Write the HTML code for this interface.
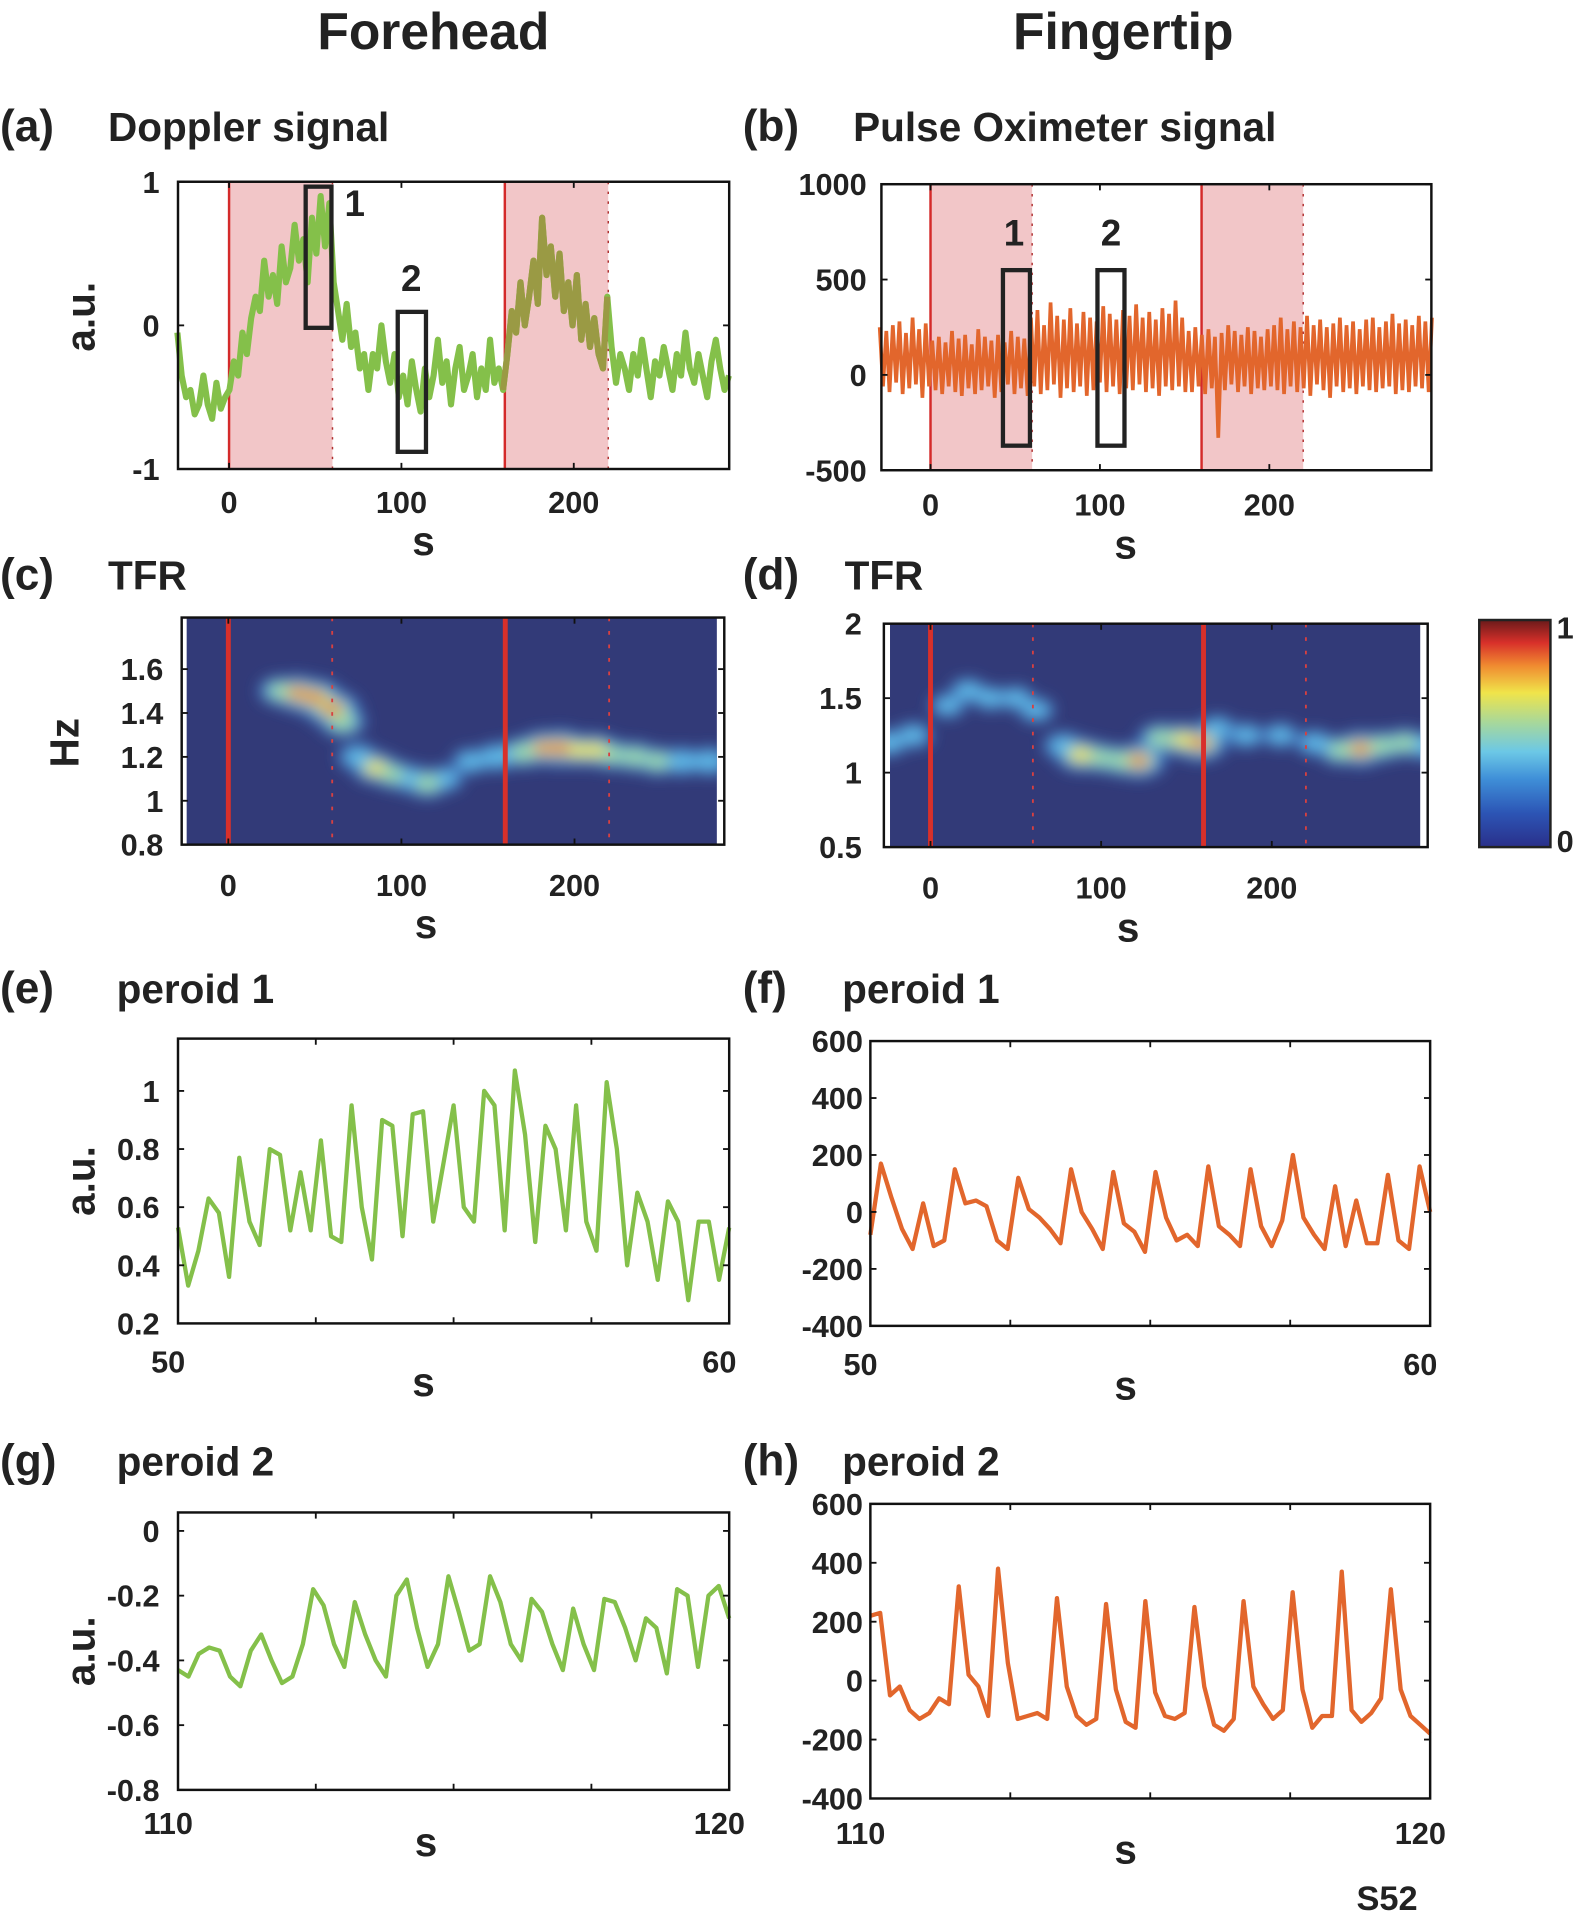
<!DOCTYPE html>
<html><head><meta charset="utf-8"><style>
html,body{margin:0;padding:0;background:#fff;}
svg{display:block;font-family:"Liberation Sans",Arial,sans-serif;font-weight:bold;}
</style></head><body>
<svg id="fig" width="1575" height="1925" viewBox="0 0 1283 1568" xmlns="http://www.w3.org/2000/svg">
<defs>
<filter id="blur" x="-50%" y="-50%" width="200%" height="200%"><feGaussianBlur stdDeviation="6"/></filter>
<linearGradient id="jet" x1="0" y1="1" x2="0" y2="0">
<stop offset="0" stop-color="#2a2f8a"/><stop offset="0.15" stop-color="#2c55b5"/><stop offset="0.3" stop-color="#3f8fd8"/>
<stop offset="0.42" stop-color="#6cc8e6"/><stop offset="0.55" stop-color="#a8d89a"/><stop offset="0.68" stop-color="#f0e44a"/>
<stop offset="0.8" stop-color="#f08a30"/><stop offset="0.9" stop-color="#d8302a"/><stop offset="1" stop-color="#6a1a1a"/>
</linearGradient>
<clipPath id="clipC"><rect x="152" y="503" width="432" height="185"/></clipPath>
<clipPath id="clipD"><rect x="725" y="508" width="432" height="182"/></clipPath>
</defs>
<g id="root"></g>
</svg>
<script>
// ---------- data ----------
const aTime0 = -30, aEnd = 290;
const aValues = [-0.05,-0.35,-0.5,-0.45,-0.62,-0.55,-0.35,-0.55,-0.65,-0.4,-0.58,-0.5,
-0.45,-0.25,-0.35,-0.05,-0.2,0.05,0.2,0.1,0.45,0.2,0.35,0.15,0.55,0.3,0.4,0.7,0.45,0.6,0.3,0.75,0.5,0.9,0.55,0.85,
0.3,0.1,-0.1,0.15,-0.15,-0.05,-0.3,-0.2,-0.45,-0.2,-0.3,0.0,-0.25,-0.4,-0.2,-0.5,
-0.35,-0.55,-0.25,-0.45,-0.6,-0.3,-0.5,-0.35,-0.1,-0.4,-0.25,-0.55,-0.3,-0.15,-0.45,-0.35,-0.2,-0.5,-0.3,-0.45,-0.1,-0.4,-0.3,-0.45,
-0.2,0.1,-0.05,0.3,0.0,0.2,0.45,0.15,0.75,0.35,0.55,0.2,0.5,0.1,0.3,0.0,0.35,-0.1,0.15,-0.15,0.05,-0.2,-0.3,0.2,
-0.15,-0.4,-0.2,-0.3,-0.45,-0.2,-0.35,-0.1,-0.3,-0.5,-0.25,-0.35,-0.15,-0.3,-0.45,-0.2,-0.35,-0.05,-0.3,-0.4,-0.2,-0.35,-0.5,-0.25,-0.1,-0.3,-0.45,-0.35];
const bTime0 = -30, bEnd = 296;
const bValues = [250,-60,230,-90,260,-40,280,-100,220,-70,300,-50,240,-120,270,-60,
180,-80,200,-100,170,-60,230,-90,190,-110,210,-70,160,-100,240,-80,200,-60,180,-120,210,-90,170,-50,230,-100,200,-70,190,-110,
300,-60,340,-100,260,-80,380,-50,310,-120,290,-70,350,-90,270,-60,330,-110,300,-80,280,-40,360,-90,320,-60,290,-100,340,-70,310,-80,
370,-50,300,-90,330,-70,290,-110,350,-60,320,-80,390,-60,300,-90,
230,-90,250,-60,210,-100,240,-70,200,-330,220,-80,260,-50,230,-90,210,-60,250,-100,230,-70,200,-80,240,-60,
260,-80,300,-100,240,-60,280,-90,250,-70,310,-110,260,-50,290,-80,250,-120,270,-60,300,-90,260,-70,280,-100,240,-60,290,-80,300,-90,250,-70,280,-60,320,-100,270,-80,290,-90,260,-60,310,-70,280,-90,300];
const cBlobs = [[30,1.5,0.5],[40,1.49,0.9],[50,1.47,1],[60,1.42,0.95],[66,1.36,0.6],[75,1.2,0.4],[85,1.15,0.65],[95,1.12,0.5],[105,1.1,0.45],[115,1.08,0.55],[125,1.1,0.3],[140,1.18,0.3],[155,1.2,0.45],[170,1.22,0.6],[182,1.24,0.85],[192,1.24,1],[202,1.23,0.7],[212,1.23,0.75],[222,1.21,0.55],[235,1.2,0.55],[248,1.18,0.5],[262,1.18,0.45],[278,1.18,0.45]];
const dBlobs = [[-25,1.2,0.35],[-10,1.25,0.3],[10,1.45,0.22],[22,1.55,0.25],[35,1.5,0.22],[50,1.5,0.22],[62,1.42,0.25],[78,1.18,0.4],[88,1.12,0.8],[100,1.1,0.55],[112,1.08,0.6],[122,1.08,0.9],[135,1.23,0.6],[148,1.22,0.75],[158,1.2,0.95],[168,1.3,0.25],[185,1.25,0.25],[205,1.25,0.25],[225,1.2,0.3],[240,1.15,0.55],[252,1.16,0.9],[265,1.18,0.55],[278,1.2,0.5],[290,1.18,0.4]];
const eValues = [0.53,0.33,0.45,0.63,0.58,0.36,0.77,0.55,0.47,0.80,0.78,0.52,0.72,0.52,0.83,0.50,0.48,0.95,0.60,0.42,0.90,0.88,0.50,0.92,0.93,0.55,0.75,0.95,0.60,0.55,1.00,0.95,0.52,1.07,0.85,0.48,0.88,0.80,0.52,0.95,0.55,0.45,1.03,0.80,0.40,0.65,0.55,0.35,0.62,0.55,0.28,0.55,0.55,0.35,0.53];
const fValues = [-80,170,50,-60,-130,30,-120,-100,150,30,40,20,-100,-130,120,10,-20,-60,-110,150,0,-60,-130,140,-40,-70,-140,140,-20,-100,-80,-120,160,-50,-80,-120,150,-50,-120,-30,200,-20,-80,-130,90,-120,40,-110,-110,130,-100,-130,160,0];
const gValues = [-0.43,-0.45,-0.38,-0.36,-0.37,-0.45,-0.48,-0.37,-0.32,-0.40,-0.47,-0.45,-0.35,-0.18,-0.23,-0.35,-0.42,-0.22,-0.32,-0.40,-0.45,-0.20,-0.15,-0.30,-0.42,-0.35,-0.14,-0.25,-0.37,-0.35,-0.14,-0.22,-0.35,-0.40,-0.21,-0.25,-0.35,-0.43,-0.24,-0.35,-0.43,-0.21,-0.22,-0.30,-0.40,-0.27,-0.30,-0.44,-0.18,-0.20,-0.42,-0.20,-0.17,-0.27];
const hValues = [220,230,-50,-20,-100,-130,-110,-60,-80,320,20,-20,-120,380,60,-130,-120,-110,-130,280,-20,-120,-150,-130,260,-30,-140,-160,270,-40,-120,-130,-110,250,-20,-150,-170,-130,270,-20,-80,-130,-100,300,-30,-160,-120,-120,370,-100,-140,-110,-60,310,-30,-120,-150,-180];
const abTicks = [0,100,200];

// ---------- helpers ----------
const NS = "http://www.w3.org/2000/svg";
const root = document.getElementById('root');
function el(tag, attrs, parent) {
  const e = document.createElementNS(NS, tag);
  for (const k in attrs) e.setAttribute(k, attrs[k]);
  (parent || root).appendChild(e);
  return e;
}
function txt(s, x, y, size, anchor, parent) {
  const t = el('text', {x:x, y:y, 'font-size':size, 'text-anchor':anchor||'middle', fill:'#222'}, parent);
  t.textContent = s;
  return t;
}
function scale(d0, d1, r0, r1) { return v => r0 + (v - d0) * (r1 - r0) / (d1 - d0); }
function axes(name) {
  const g = el('g', {});
  
  
  return g;
}
function frame(g, L, R, T, B) {
  el('rect', {x:L, y:T, width:R-L, height:B-T, fill:'none', stroke:'#111', 'stroke-width':2}, g);
}
function linePath(vals, sx, sy, t0, step) {
  return vals.map((v,i) => (i? 'L':'M') + sx(t0 + i*step).toFixed(1) + ',' + sy(v).toFixed(1)).join('');
}
function xticks(g, ticks, sx, B, T, ly) {
  ticks.forEach(t => {
    el('line', {x1:sx(t), x2:sx(t), y1:B, y2:B-5, stroke:'#111', 'stroke-width':1.5}, g);
    el('line', {x1:sx(t), x2:sx(t), y1:T, y2:T+5, stroke:'#111', 'stroke-width':1.5}, g);
    txt(String(t), sx(t), ly, 25, 'middle', g);
  });
}
function yticks(g, ticks, sy, L, R, lx, labels) {
  ticks.forEach((t,i) => {
    el('line', {x1:L, x2:L+5, y1:sy(t), y2:sy(t), stroke:'#111', 'stroke-width':1.5}, g);
    el('line', {x1:R, x2:R-5, y1:sy(t), y2:sy(t), stroke:'#111', 'stroke-width':1.5}, g);
    txt(labels ? labels[i] : String(t), lx, sy(t)+9, 25, 'end', g);
  });
}

// ---------- headings ----------
let t;
t = txt('Forehead', 353, 40, 42);  
t = txt('Fingertip', 915, 40, 42);  
function panelTitle(label, title, x, tx, y, name) {
  const a = txt(label, x, y, 36, 'start');
   
  const b = txt(title, tx, y, 33, 'start');
   
}
panelTitle('(a)', 'Doppler signal', 0, 88, 115, 'panel-a');
panelTitle('(b)', 'Pulse Oximeter signal', 605, 695, 115, 'panel-b');
panelTitle('(c)', 'TFR', 0, 88, 480, 'panel-c');
panelTitle('(d)', 'TFR', 605, 688, 480, 'panel-d');
panelTitle('(e)', 'peroid 1', 0, 95, 817, 'panel-e');
panelTitle('(f)', 'peroid 1', 605, 686, 817, 'panel-f');
panelTitle('(g)', 'peroid 2', 0, 95, 1202, 'panel-g');
panelTitle('(h)', 'peroid 2', 605, 686, 1202, 'panel-h');
t = txt('S52', 1105, 1556, 28, 'start');  

function ylabel(g, s, x, y, name) {
  const e = txt(s, x, y, 33, 'middle', g);
  e.setAttribute('transform', 'rotate(-90 ' + x + ' ' + y + ')');
  
  
}
function xlabel(g, x, y, name) {
  const e = txt('s', x, y, 33, 'middle', g);
  
  
}
function shade(g, sx, T, B, a0, a1) {
  el('rect', {x:sx(a0), y:T, width:sx(a1)-sx(a0), height:B-T, fill:'#f2c6c8'}, g);
  el('line', {x1:sx(a0), x2:sx(a0), y1:T, y2:B, stroke:'#d42a2a', 'stroke-width':2}, g);
  el('line', {x1:sx(a1), x2:sx(a1), y1:T, y2:B, stroke:'#b03030', 'stroke-width':1.2, 'stroke-dasharray':'2,6'}, g);
}

// ---------- panel a ----------
(function(){
  const L=145,R=594,T=148,B=382;
  const g = axes('doppler-signal-chart');
  const sx = scale(0,100,186.6,327), sy = scale(-1,1,B,T);
  const aStep = (aEnd - aTime0) / (aValues.length - 1);
  shade(g, sx, T, B, 0, 60); shade(g, sx, T, B, 160, 220);
  const p = el('path', {d:linePath(aValues, sx, sy, aTime0, aStep), fill:'none', stroke:'#84c04a', 'stroke-width':5, 'stroke-linejoin':'round'}, g);
   
  const i0 = Math.round((160-aTime0)/aStep), i1 = Math.round((220-aTime0)/aStep);
  const seg = aValues.slice(i0, i1+1);
  const p2 = el('path', {d:linePath(seg, sx, sy, aTime0 + i0*aStep, aStep), fill:'none', stroke:'#9a9a44', 'stroke-width':5, 'stroke-linejoin':'round'}, g);
   
  const b1 = el('rect', {x:249, y:152, width:21, height:115, fill:'none', stroke:'#222', 'stroke-width':3.5}, g);
   
  const b2 = el('rect', {x:324, y:254, width:23, height:114, fill:'none', stroke:'#222', 'stroke-width':3.5}, g);
   
  txt('1', 289, 176, 30, 'middle', g); txt('2', 335, 237, 30, 'middle', g);
  frame(g, L, R, T, B);
  xticks(g, abTicks, sx, B, T, 418);
  yticks(g, [-1,0,1], sy, L, R, 130);
  xlabel(g, 345, 452, 'x-axis-title-a');
  ylabel(g, 'a.u.', 77, 258, 'y-axis-title-a');
})();

// ---------- panel b ----------
(function(){
  const L=718,R=1166,T=150,B=383;
  const g = axes('pulse-oximeter-chart');
  const sx = scale(0,200,758,1034), sy = scale(-500,1000,B,T);
  const bStep = (bEnd - bTime0) / (bValues.length - 1);
  shade(g, sx, T, B, 0, 60); shade(g, sx, T, B, 160, 220);
  const p = el('path', {d:linePath(bValues, sx, sy, bTime0, bStep), fill:'none', stroke:'#e2662c', 'stroke-width':3}, g);
   
  const b1 = el('rect', {x:817, y:220, width:22, height:143, fill:'none', stroke:'#222', 'stroke-width':3.5}, g);
   
  const b2 = el('rect', {x:894, y:220, width:22, height:143, fill:'none', stroke:'#222', 'stroke-width':3.5}, g);
   
  txt('1', 826, 200, 30, 'middle', g); txt('2', 905, 200, 30, 'middle', g);
  frame(g, L, R, T, B);
  xticks(g, abTicks, sx, B, T, 420);
  yticks(g, [-500,0,500,1000], sy, L, R, 706);
  xlabel(g, 917, 455, 'x-axis-title-b');
})();

// ---------- heatmap helper ----------
function heat(g, blobs, sx, sy, clip, L, T, W, H, redLines, dotLines) {
  const hg = el('g', {'clip-path':'url(#' + clip + ')'}, g);
  el('rect', {x:L, y:T, width:W, height:H, fill:'#323a78'}, hg);
  const bg = el('g', {filter:'url(#blur)'}, hg);
  const layers = [['#3c68b8',1.0,0],['#5fb8e6',0.72,0.15],['#9ed8a0',0.52,0.45],['#f0e040',0.4,0.6],['#e04020',0.28,0.8]];
  layers.forEach(([col, k, th]) => {
    blobs.forEach(([tt, f, a]) => {
      if (a <= th) return;
      const c = el('ellipse', {cx:sx(tt), cy:sy(f), rx:(20*k*(0.6+a*0.6)), ry:(14*k*(0.6+a*0.5)), fill:col}, bg);
      
      
    });
  });
  redLines.forEach(v => el('line', {x1:sx(v), x2:sx(v), y1:T, y2:T+H, stroke:'#d8302a', 'stroke-width':4}, hg));
  dotLines.forEach(v => el('line', {x1:sx(v), x2:sx(v), y1:T, y2:T+H, stroke:'#d84040', 'stroke-width':1.5, 'stroke-dasharray':'3,8'}, hg));
}

// ---------- panel c ----------
(function(){
  const L=148,R=590,T=503,B=688;
  const g = axes('tfr-forehead-chart');
  const sx = scale(0,100,186,327), sy = scale(0.8,1.6,B,545);
  heat(g, cBlobs, sx, sy, 'clipC', 152, 503, 432, 185, [0,160], [60,220]);
  frame(g, L, R, T, B);
  xticks(g, abTicks, sx, B, T, 730);
  yticks(g, [0.8,1,1.2,1.4,1.6], sy, L, R, 133, ['0.8','1','1.2','1.4','1.6']);
  xlabel(g, 347, 764, 'x-axis-title-c');
  ylabel(g, 'Hz', 64, 605, 'y-axis-title-c');
})();

// ---------- panel d ----------
(function(){
  const L=720,R=1163,T=508,B=690;
  const g = axes('tfr-fingertip-chart');
  const sx = scale(0,200,758,1036), sy = scale(0.5,2,B,T);
  heat(g, dBlobs, sx, sy, 'clipD', 725, 508, 432, 182, [0,160], [60,220]);
  frame(g, L, R, T, B);
  xticks(g, abTicks, sx, B, T, 732);
  yticks(g, [0.5,1,1.5,2], sy, L, R, 702, ['0.5','1','1.5','2']);
  xlabel(g, 919, 767, 'x-axis-title-d');
  const cb = el('rect', {x:1205, y:505, width:58, height:185, fill:'url(#jet)', stroke:'#222', 'stroke-width':2}, g);
   
  txt('1', 1268, 520, 25, 'start', g); txt('0', 1268, 694, 25, 'start', g);
})();

// ---------- small line panels ----------
function smallPanel(name, vals, L, R, T, B, ymin, ymax, yt, ylabels, x0lab, x1lab, color, ylx, xly, slx, sly, yAxisTitle) {
  const g = axes(name);
  const sx = scale(0, vals.length-1, L, R), sy = scale(ymin, ymax, B, T);
  const p = el('path', {d:linePath(vals, sx, sy, 0, 1), fill:'none', stroke:color, 'stroke-width':3.5, 'stroke-linejoin':'round'}, g);
   
  frame(g, L, R, T, B);
  yticks(g, yt, sy, L, R, ylx, ylabels);
  [0.25,0.5,0.75].forEach(f => {
    el('line', {x1:L+(R-L)*f, x2:L+(R-L)*f, y1:B, y2:B-5, stroke:'#111', 'stroke-width':1.5}, g);
    el('line', {x1:L+(R-L)*f, x2:L+(R-L)*f, y1:T, y2:T+5, stroke:'#111', 'stroke-width':1.5}, g);
  });
  txt(x0lab, L-8, xly, 25, 'middle', g);
  txt(x1lab, R-8, xly, 25, 'middle', g);
  xlabel(g, slx, sly, name + '-x-title');
  if (yAxisTitle) ylabel(g, 'a.u.', 77, (T+B)/2, name + '-y-title');
}
smallPanel('period1-forehead', eValues, 145, 594, 846, 1078, 0.2, 1.18, [0.2,0.4,0.6,0.8,1], ['0.2','0.4','0.6','0.8','1'], '50', '60', '#84c04a', 130, 1118, 345, 1137, true);
smallPanel('period1-fingertip', fValues, 709, 1165, 848, 1080, -400, 600, [-400,-200,0,200,400,600], null, '50', '60', '#e2662c', 703, 1120, 917, 1140, false);
smallPanel('period2-forehead', gValues, 145, 594, 1232, 1458, -0.8, 0.057, [-0.8,-0.6,-0.4,-0.2,0], ['-0.8','-0.6','-0.4','-0.2','0'], '110', '120', '#84c04a', 130, 1494, 347, 1512, true);
smallPanel('period2-fingertip', hValues, 709, 1165, 1225, 1465, -400, 600, [-400,-200,0,200,400,600], null, '110', '120', '#e2662c', 703, 1502, 917, 1518, false);
</script>
</body></html>
